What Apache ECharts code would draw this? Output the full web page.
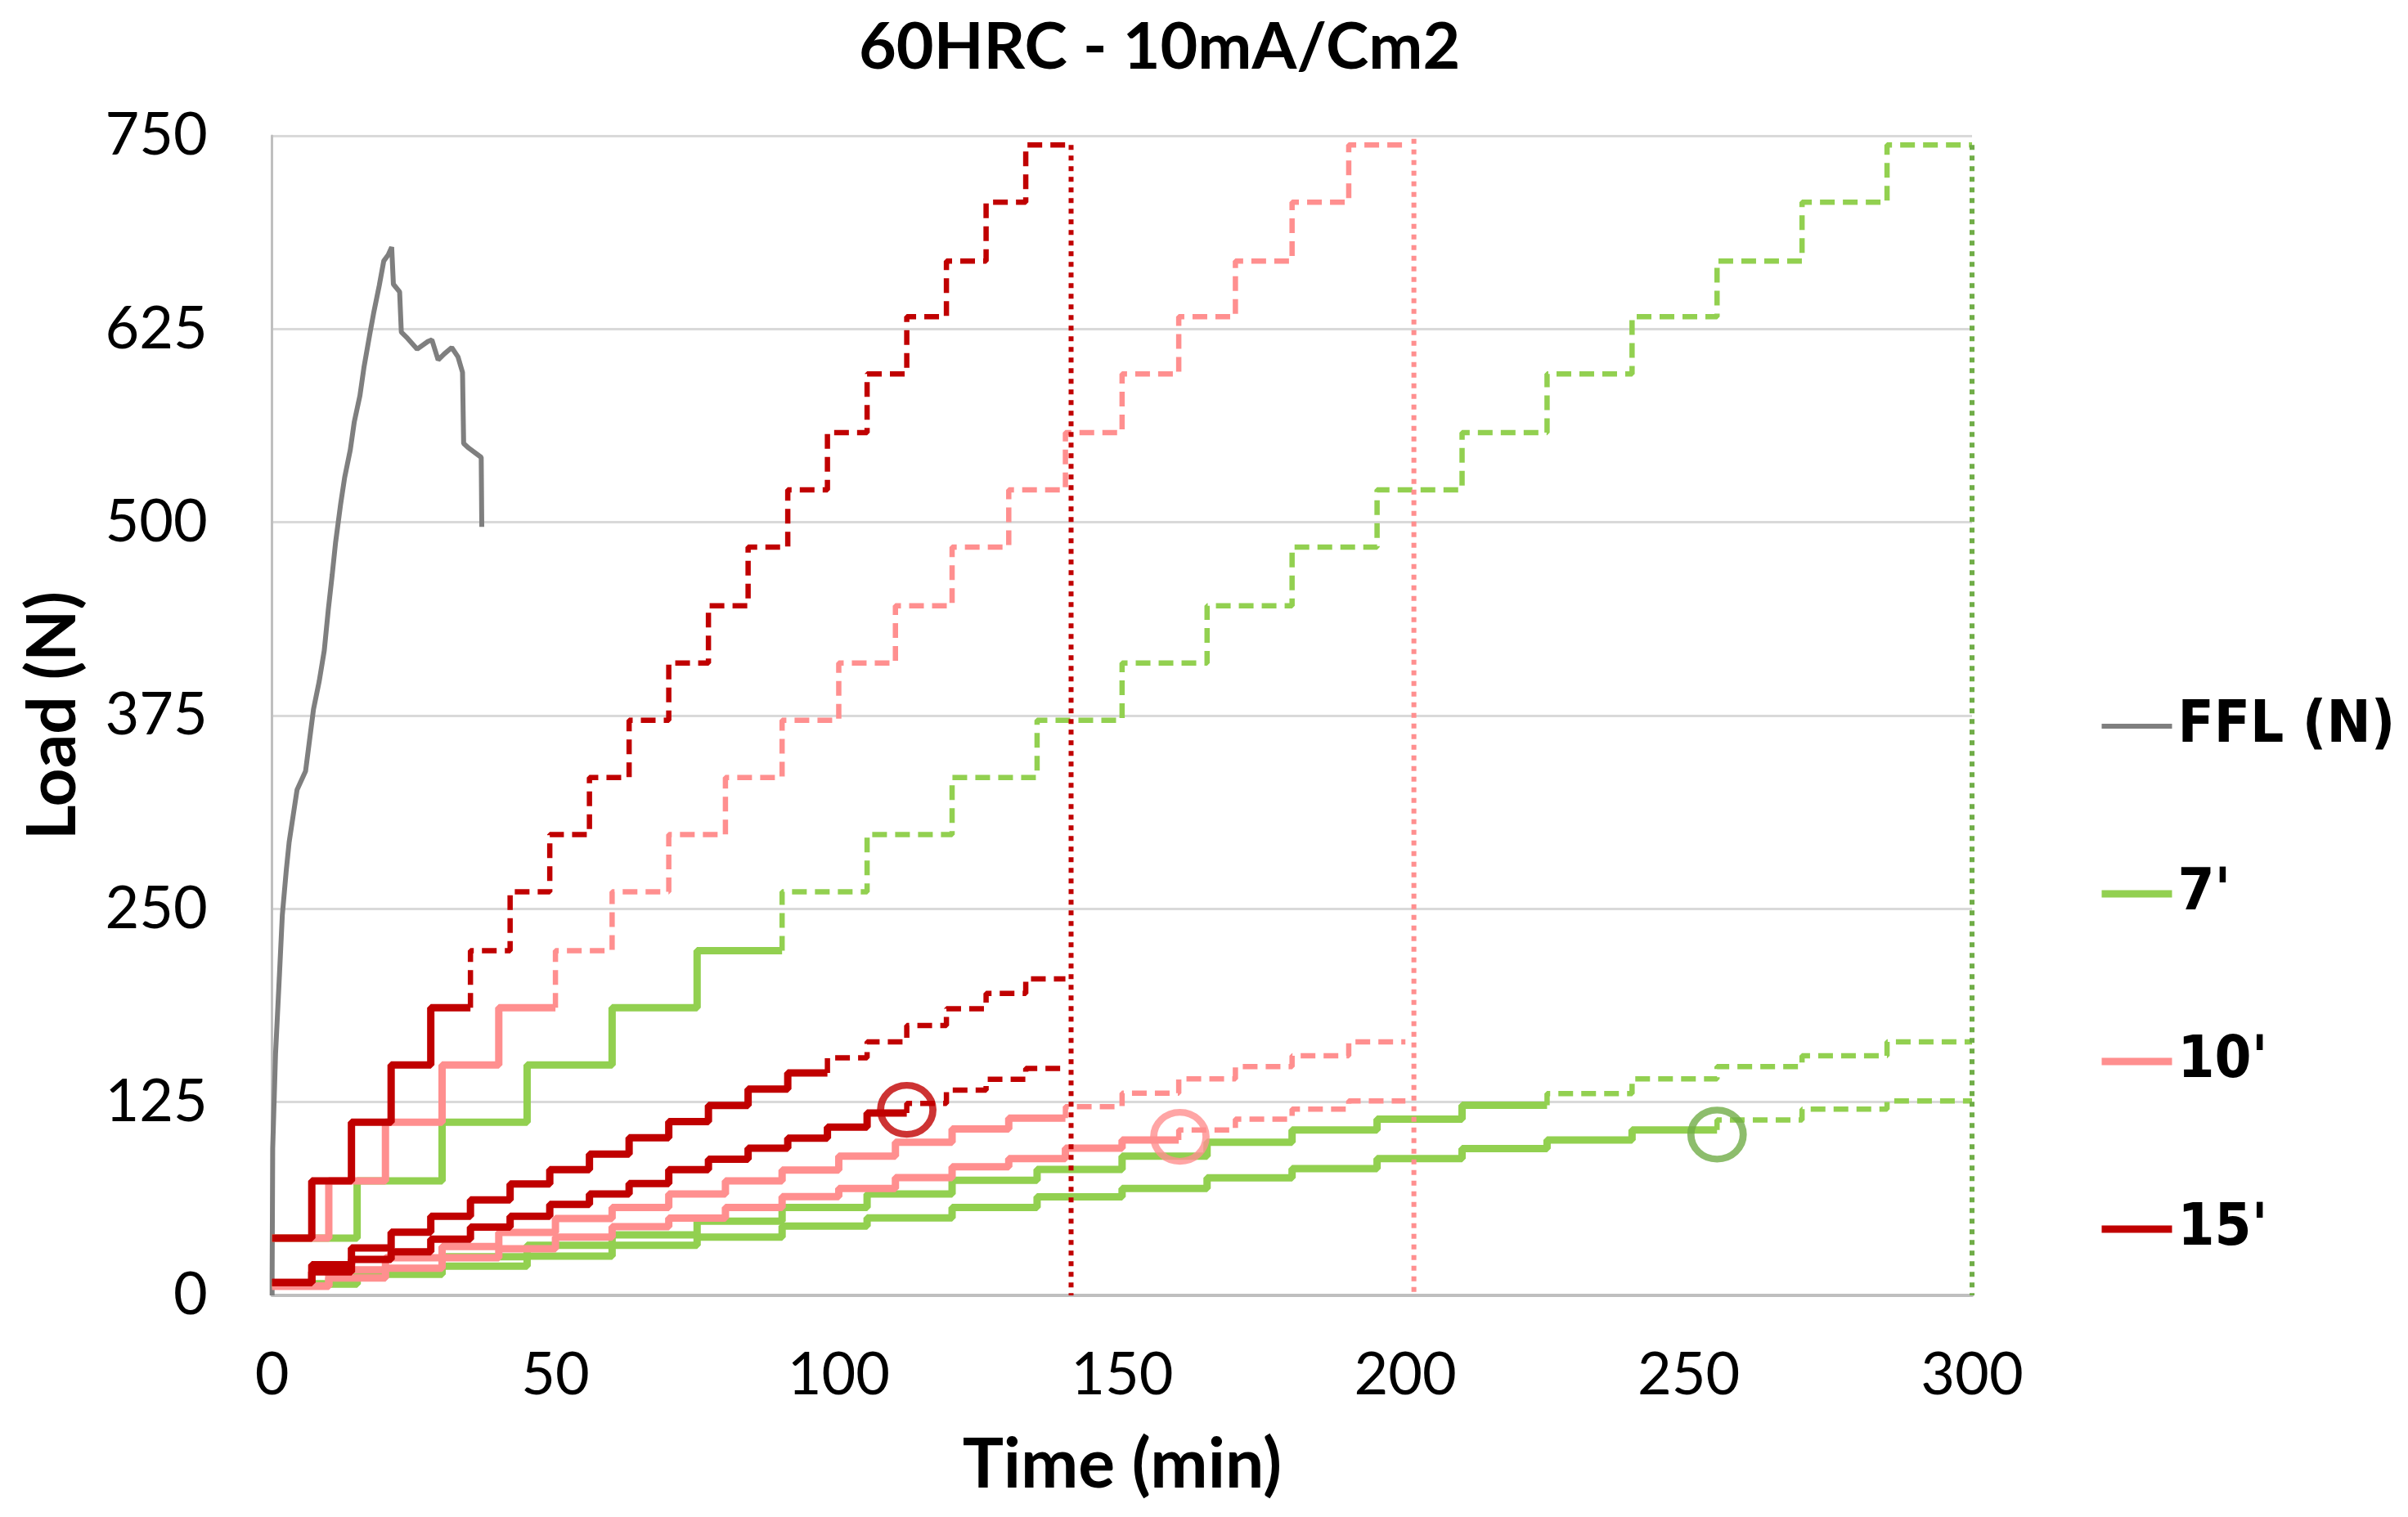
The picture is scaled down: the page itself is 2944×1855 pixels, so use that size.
<!DOCTYPE html>
<html>
<head>
<meta charset="utf-8">
<script src="https://cdn.jsdelivr.net/npm/echarts@6/dist/echarts.min.js"></script>
<style>
html,body{margin:0;padding:0;background:#fff;}
#chart{width:2944px;height:1855px;}
</style>
</head>
<body>
<div id="chart"></div>
<script>
// ---- data ----
const titleText = "60HRC - 10mA/Cm2";
const xTicks = [0, 50, 100, 150, 200, 250, 300];
const yTicks = [0, 125, 250, 375, 500, 625, 750];

// FFL (N) curve: [time, load]
const fflData = [[0,0],[0,11],[0.1,95],[0.6,156],[1.3,208],[1.8,246],[2.5,275],[3.0,293],[3.7,310],[4.4,327],[5.9,339],[6.6,359],[7.3,379],[8.3,397],[9.2,417],[9.9,443],[10.6,466],[11.2,487],[12.1,512],[12.8,529],[13.8,547],[14.5,565],[15.5,582],[16.2,600],[17.2,621],[17.9,635],[18.9,653],[19.7,669],[20.5,673],[21.1,678],[21.4,654],[22.5,649],[22.8,623],[23.9,619],[25.6,612],[27.5,617],[28.2,618],[29.3,605],[30.4,609],[31.7,613],[32.8,607],[33.6,597],[33.8,551],[34.7,548],[36.9,542],[37.0,497]];

// step boundaries (min)
const t7 = [0,15,30,45,60,75,90,105,120,135,150,165,180,195,210,225,240,255,270,285,300];
const t10 = [0,10,20,30,40,50,60,70,80,90,100,110,120,130,140,150,160,170,180,190,200];
const t15 = [0,7,14,21,28,35,42,49,56,63,70,77,84,91,98,105,112,119,126,133,140];

// load steps (N)
const steep7  = [37,74,112,149,186,223,261,298,335,372,409,446,484,521,558,596,633,669,707,744];
const steep10 = [37,74,112,149,186,223,261,298,335,372,409,446,484,521,558,596,633,669,707,744];
const steep15 = [37,74,112,149,186,223,261,298,335,372,409,446,484,521,558,596,633,669,707,744];

const lowA7 = [7.4,16,25,32.4,39.1,48,56.8,65.6,74.4,81.4,90,99,107,114,123,130.5,140,148,155,164];
const lowB7 = [7.4,13.6,18.9,25.4,32.4,37.7,44.8,50.1,56.8,63.8,69.1,76,82,88.5,95,100.5,107,113.5,120.5,125.7];
const lowA10 = [6,16.5,24.3,31.6,40.7,49.7,56.8,65.6,74.1,81.1,90,99.1,107.6,114.6,122,130.8,140,148,155,164];
const lowB10 = [6,11.3,17.6,24.3,30.2,37.7,44.4,50,56.8,63.9,69.1,76.2,83.2,88.5,95.2,100.5,107,114,120.5,125.7];
const lowA15 = [8.3,19.9,30.7,40.9,51.2,61.8,72,81.3,91.4,101.9,112.4,122.9,133.4,143.8,153.6,164,174.5,185.4,195.3,204.7];
const lowB15 = [8.3,15.2,23.3,28.2,36.3,44.1,51.2,58.9,65.6,72.3,81.3,88.1,95.2,101.7,108.8,118,124.1,132.7,139.7,146.8];

// number of solid steps before the dashed continuation
const solid7 = {steep: 6, A: 15, B: 17};
const solid10 = {steep: 5, A: 14, B: 16};
const solid15 = {steep: 5, A: 14, B: 16};

// end-of-test vertical lines [time, top load]
const end7 = [300, 744];
const end10 = [201.5, 748];
const end15 = [141, 744];

// circled points
const circle7 = [255, 104];
const circle10 = [160.2, 102.6];
const circle15 = [112, 120];

// ---- build ----
function stepData(times, vals, from, to) {
  const d = [];
  if (from > 0) d.push([times[from], vals[from - 1]]);
  for (let k = from; k < to; k++) d.push([times[k], vals[k]]);
  d.push([times[to], vals[to - 1]]);
  return d;
}

const GREEN = '#92D050', PINK = '#FF8F8F', RED = '#C00000', GRAY = '#7F7F7F', DKGREEN = '#70AD47';
const SOLID_W = 9, DASH_W = 6.5;
const DASH = [18, 10], DOT = [6, 7];

function lineS(name, data, color, width, type, z) {
  return {
    name: name, type: 'line', data: data, step: 'end', symbol: 'none', showSymbol: false,
    lineStyle: {color: color, width: width, type: type, cap: 'butt'},
    itemStyle: {color: color}, z: z, silent: true, animation: false
  };
}

function group(name, times, steep, A, B, sol, end, circ, color, endColor, z) {
  const n = times.length - 1;
  return [
    lineS(name, stepData(times, steep, 0, sol.steep), color, SOLID_W, 'solid', z),
    lineS(name + ' ', stepData(times, steep, sol.steep, n), color, DASH_W, DASH, z),
    lineS(name + ' A', stepData(times, A, 0, sol.A), color, SOLID_W, 'solid', z),
    lineS(name + ' A ', stepData(times, A, sol.A, n), color, DASH_W, DASH, z),
    lineS(name + ' B', stepData(times, B, 0, sol.B), color, SOLID_W, 'solid', z),
    lineS(name + ' B ', stepData(times, B, sol.B, n), color, DASH_W, DASH, z),
    {
      name: name + ' end', type: 'line', data: [[end[0], end[1]], [end[0], 0]], symbol: 'none',
      lineStyle: {color: endColor, width: 6, type: DOT}, z: z, silent: true
    },
    {
      name: name + ' mark', type: 'scatter', data: [circ], symbol: 'circle', symbolSize: [64, 60],
      itemStyle: {color: 'rgba(0,0,0,0)', borderColor: endColor === PINK ? PINK : (color === GREEN ? DKGREEN : color), borderWidth: 8.5},
      z: z + 1, silent: true
    }
  ];
}

const series = [
  {
    name: 'FFL (N)', type: 'line', data: fflData, symbol: 'none', showSymbol: false,
    lineStyle: {color: GRAY, width: 6}, itemStyle: {color: GRAY}, z: 2, silent: true
  }
].concat(
  group("7'", t7, steep7, lowA7, lowB7, solid7, end7, circle7, GREEN, DKGREEN, 3),
  group("10'", t10, steep10, lowA10, lowB10, solid10, end10, circle10, PINK, PINK, 5),
  group("15'", t15, steep15, lowA15, lowB15, solid15, end15, circle15, RED, RED, 7)
);

const legendNames = ['FFL (N)', "7'", "10'", "15'"];
const legendWidths = [6, 9, 9, 9];

const chart = echarts.init(document.getElementById('chart'), null, {renderer: 'canvas'});
chart.setOption({
  animation: false,
  backgroundColor: '#ffffff',
  title: {
    text: titleText, left: 1045, top: 14,
    textStyle: {fontFamily: 'Lato', fontWeight: 'bold', fontSize: 79, color: '#000'}
  },
  legend: {
    orient: 'vertical', left: 2560, top: 847,
    itemWidth: 86, itemHeight: 70, itemGap: 133,
    itemStyle: {color: 'rgba(0,0,0,0)', borderWidth: 0, opacity: 0},
    data: legendNames.map((nm, i) => ({name: nm, lineStyle: {width: legendWidths[i], type: 'solid'}})),
    textStyle: {fontFamily: 'DejaVu Sans Condensed, DejaVu Sans', fontWeight: 'bold', fontSize: 72, color: '#000', padding: [0, 0, 0, 2], lineHeight: 70}
  },
  grid: {left: 332.7, right: 533, top: 166, bottom: 271, containLabel: false},
  xAxis: {
    type: 'value', min: xTicks[0], max: xTicks[xTicks.length - 1], interval: xTicks[1] - xTicks[0],
    name: 'Time (min)', nameLocation: 'middle', nameGap: 166,
    nameTextStyle: {fontFamily: 'Lato', fontWeight: 'bold', fontSize: 84, color: '#000'},
    axisLine: {show: true, lineStyle: {color: '#BFBFBF', width: 4}},
    axisTick: {show: false},
    splitLine: {show: false},
    axisLabel: {fontFamily: 'Lato', fontSize: 72, color: '#000', margin: 62}
  },
  yAxis: {
    type: 'value', min: yTicks[0], max: yTicks[yTicks.length - 1], interval: yTicks[1] - yTicks[0],
    name: 'Load (N)', nameLocation: 'middle', nameGap: 226,
    nameTextStyle: {fontFamily: 'Lato', fontWeight: 'bold', fontSize: 82, color: '#000'},
    axisLine: {show: true, lineStyle: {color: '#BFBFBF', width: 3}},
    axisTick: {show: false},
    splitLine: {show: true, lineStyle: {color: '#D9D9D9', width: 3}},
    axisLabel: {fontFamily: 'Lato', fontSize: 72, color: '#000', margin: 79}
  },
  series: series
});
</script>
</body>
</html>
